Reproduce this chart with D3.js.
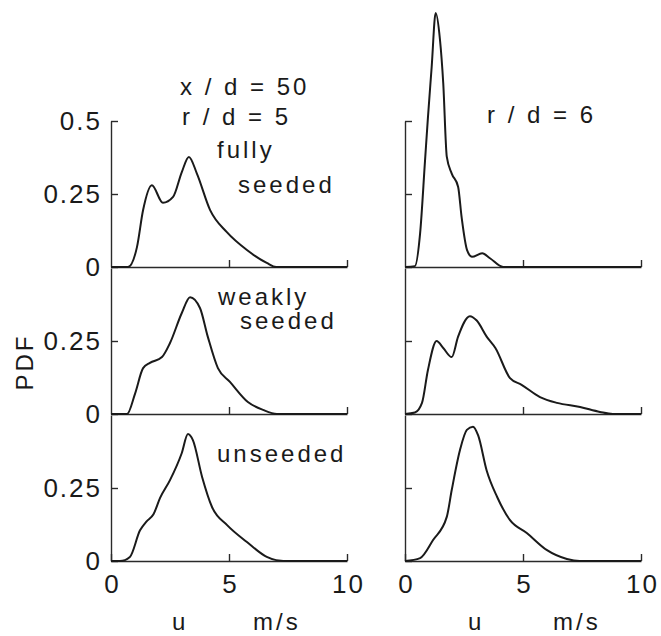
<!DOCTYPE html>
<html>
<head>
<meta charset="utf-8">
<script src="https://cdn.jsdelivr.net/npm/d3@7"></script>
<style>
  body { margin: 0; background: #fff; }
  svg text { font-family: "Liberation Sans", Arial, sans-serif; fill: #1a1a1a; }
  .axis path, .axis line { stroke: #2a2a2a; stroke-width: 1.4px; }
  .axis text { font-size: 26px; letter-spacing: 2px; }
  .curve { fill: none; stroke: #1a1a1a; stroke-width: 2px; }
  .lbl { font-size: 24px; letter-spacing: 3px; }
</style>
</head>
<body>
<div id="chart"></div>
<script>
// PDF of velocity u (m/s), x/d = 50
var fullyR5 = [[0,0],[0.72,0],[1.1,0.068],[1.36,0.195],[1.73,0.28],[2.2,0.22],[2.63,0.24],[3.0,0.325],[3.3,0.377],[3.64,0.32],[4.2,0.195],[4.9,0.12],[5.76,0.058],[6.6,0.014],[7.0,0],[10,0]];
var weakR5  = [[0,0],[0.68,0],[1.02,0.07],[1.36,0.157],[1.65,0.175],[2.16,0.195],[2.5,0.243],[3.0,0.346],[3.35,0.40],[3.77,0.363],[4.1,0.265],[4.53,0.157],[5.04,0.11],[5.8,0.041],[6.44,0.014],[7.03,0],[10,0]];
var unseedR5 = [[0,0],[0.38,0],[0.8,0.014],[1.23,0.105],[1.5,0.135],[1.8,0.16],[2.08,0.216],[2.5,0.277],[3.0,0.37],[3.26,0.435],[3.47,0.414],[3.86,0.288],[4.28,0.185],[4.92,0.123],[5.76,0.065],[6.6,0.014],[7.0,0.003],[7.6,0],[10,0]];
var fullyR6 = [[0,0],[0.42,0.003],[0.64,0.115],[0.85,0.366],[0.97,0.51],[1.13,0.685],[1.3,0.87],[1.48,0.78],[1.62,0.63],[1.77,0.378],[1.98,0.32],[2.25,0.275],[2.4,0.17],[2.63,0.058],[2.84,0.035],[3.27,0.047],[3.6,0.03],[4.16,0],[10,0]];
var weakR6  = [[0,0],[0.42,0.005],[0.72,0.038],[0.97,0.15],[1.34,0.25],[1.62,0.226],[1.98,0.195],[2.25,0.265],[2.75,0.335],[3.04,0.32],[3.46,0.265],[3.83,0.226],[4.45,0.123],[4.94,0.1],[5.72,0.058],[6.44,0.038],[7.42,0.024],[8.26,0.007],[8.8,0],[10,0]];
var unseedR6 = [[0,0],[0.64,0.01],[1.19,0.072],[1.77,0.151],[1.98,0.243],[2.33,0.38],[2.62,0.449],[2.88,0.46],[3.1,0.43],[3.46,0.31],[3.9,0.22],[4.45,0.14],[5.16,0.096],[6.0,0.038],[6.86,0.007],[7.4,0],[10,0]];

var xTicks = [0, 5, 10];
var yTicks = [0, 0.25, 0.5];

var W = 661, H = 636;
var colLeft = [111, 405];       // x of u = 0 for each column
var colWidth = 236;             // u = 0..10
var rowBottom = [267, 414, 561];
var rowHeight = 146;            // pdf 0..0.5

var panels = [
  {col: 0, row: 0, data: fullyR5},
  {col: 0, row: 1, data: weakR5},
  {col: 0, row: 2, data: unseedR5},
  {col: 1, row: 0, data: fullyR6},
  {col: 1, row: 1, data: weakR6},
  {col: 1, row: 2, data: unseedR6}
];

var svg = d3.select("#chart").append("svg")
    .attr("width", W)
    .attr("height", H);

panels.forEach(function(p) {
  var x = d3.scaleLinear().domain([0, 10]).range([colLeft[p.col], colLeft[p.col] + colWidth]);
  var y = d3.scaleLinear().domain([0, 0.5]).range([rowBottom[p.row], rowBottom[p.row] - rowHeight]);

  // y axis, ticks pointing inwards
  var yt = p.row === 0 ? yTicks : yTicks.slice(0, 2);
  var ya = d3.axisLeft(y).tickValues(yt).tickSize(-7).tickSizeOuter(0).tickPadding(12)
      .tickFormat(function(d) { return p.col === 0 ? d3.format("")(d) : ""; });
  var gy = svg.append("g").attr("class", "axis")
      .attr("transform", "translate(" + colLeft[p.col] + ",0)")
      .call(ya);
  gy.selectAll(".tick text").attr("dx", "3px");

  // x axis (baseline), ticks pointing up
  var xa = d3.axisBottom(x).tickValues(p.row === 2 ? xTicks : [5, 10]).tickSize(-7).tickSizeOuter(0).tickPadding(14)
      .tickFormat(function(d) { return p.row === 2 ? d : ""; });
  var gx = svg.append("g").attr("class", "axis")
      .attr("transform", "translate(0," + rowBottom[p.row] + ")")
      .call(xa);
  gx.selectAll(".tick text").attr("dx", "1px");

  var line = d3.line()
      .x(function(d) { return x(d[0]); })
      .y(function(d) { return y(d[1]); })
      .curve(d3.curveMonotoneX);

  svg.append("path")
      .datum(p.data)
      .attr("class", "curve")
      .attr("d", line);
});

// annotations
var notes = [
  {t: "x / d = 50", x: 180, y: 95},
  {t: "r / d = 5", x: 182, y: 125},
  {t: "fully", x: 217, y: 158},
  {t: "seeded", x: 238, y: 193},
  {t: "weakly", x: 218, y: 305},
  {t: "seeded", x: 240, y: 329},
  {t: "unseeded", x: 217, y: 462},
  {t: "r / d = 6", x: 487, y: 123},
  {t: "u", x: 172, y: 630},
  {t: "m/s", x: 253, y: 630},
  {t: "u", x: 468, y: 630},
  {t: "m/s", x: 553, y: 630}
];
svg.selectAll(".note").data(notes).enter().append("text")
    .attr("class", "lbl")
    .attr("x", function(d) { return d.x; })
    .attr("y", function(d) { return d.y; })
    .text(function(d) { return d.t; });

svg.append("text")
    .attr("class", "lbl")
    .attr("text-anchor", "middle")
    .attr("transform", "translate(33,362) rotate(-90)")
    .text("PDF");
</script>
</body>
</html>
